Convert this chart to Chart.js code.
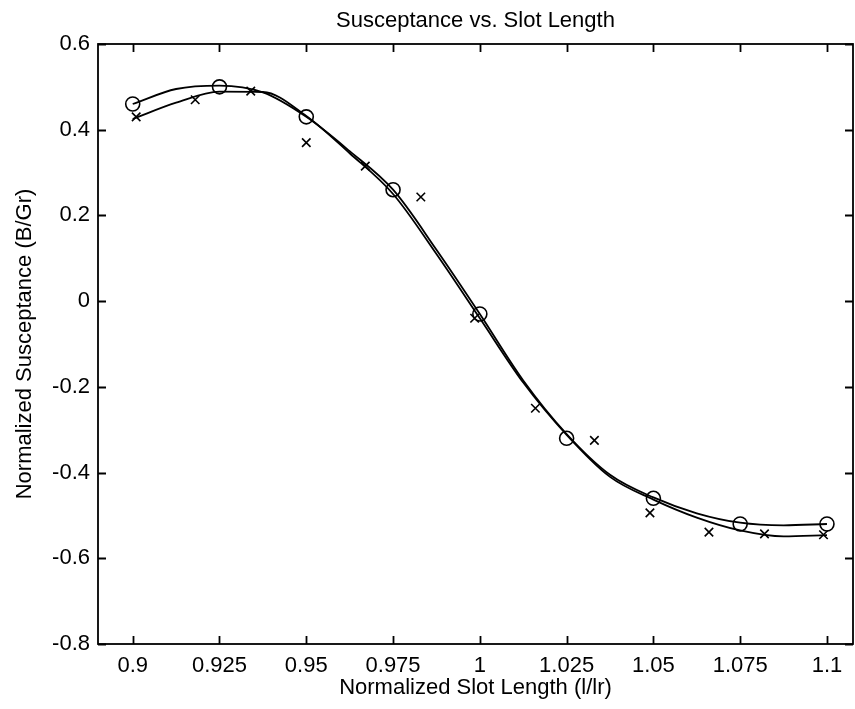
<!DOCTYPE html>
<html>
<head>
<meta charset="utf-8">
<title>Susceptance vs. Slot Length</title>
<script src="https://cdn.jsdelivr.net/npm/chart.js@4.4.1/dist/chart.umd.min.js"></script>
<style>
  html, body { margin: 0; padding: 0; background: #fff; }
  #wrap { width: 855px; height: 709px; }
</style>
</head>
<body>
<div id="wrap"><canvas id="susChart" width="855" height="709"></canvas></div>
<script>
// Tick labels
const xTicks = [0.9, 0.925, 0.95, 0.975, 1, 1.025, 1.05, 1.075, 1.1];
const yTicks = [-0.8, -0.6, -0.4, -0.2, 0, 0.2, 0.4, 0.6];

// Measured points (o)
const circleX = [0.9, 0.925, 0.95, 0.975, 1.0, 1.025, 1.05, 1.075, 1.1];
const circleY = [0.46, 0.50, 0.43, 0.26, -0.03, -0.32, -0.46, -0.52, -0.52];

// Measured points (x)
const crossX = [0.901, 0.918, 0.934, 0.950, 0.967, 0.983, 0.9985, 1.016, 1.033, 1.049, 1.066, 1.082, 1.099];
const crossY = [0.43, 0.47, 0.49, 0.37, 0.315, 0.243, -0.04, -0.25, -0.325, -0.494, -0.539, -0.543, -0.545];

// Fitted curves
const fitX = [0.9, 0.9125, 0.925, 0.9375, 0.95, 0.9625, 0.975, 0.9875, 1.0,
              1.0125, 1.025, 1.0375, 1.05, 1.0625, 1.075, 1.0875, 1.1];
const fitCircle = [0.46, 0.495, 0.503, 0.487, 0.43, 0.35, 0.26, 0.12, -0.03,
                   -0.185, -0.31, -0.405, -0.458, -0.495, -0.517, -0.523, -0.52];
const fitCross = [0.425, 0.463, 0.489, 0.488, 0.432, 0.345, 0.25, 0.11, -0.04,
                  -0.19, -0.312, -0.41, -0.463, -0.505, -0.535, -0.549, -0.546];

function toPoints(xs, ys) {
    return xs.map((x, i) => ({ x: x, y: ys[i] }));
}

// Box around the plot with inward ticks on all four sides
const boxPlugin = {
    id: 'boxPlugin',
    afterDatasetsDraw(chart) {
        const ctx = chart.ctx;
        const a = chart.chartArea;
        const xs = chart.scales.x;
        const ys = chart.scales.y;
        const len = 8;
        ctx.save();
        ctx.strokeStyle = '#000';
        ctx.lineWidth = 1.8;
        ctx.strokeRect(a.left, a.top, a.right - a.left, a.bottom - a.top);
        ctx.beginPath();
        xTicks.forEach(v => {
            const px = Math.round(xs.getPixelForValue(v)) + 0.5;
            ctx.moveTo(px, a.bottom);
            ctx.lineTo(px, a.bottom - len);
            ctx.moveTo(px, a.top);
            ctx.lineTo(px, a.top + len);
        });
        yTicks.forEach(v => {
            const py = Math.round(ys.getPixelForValue(v)) + 0.5;
            ctx.moveTo(a.left, py);
            ctx.lineTo(a.left + len, py);
            ctx.moveTo(a.right, py);
            ctx.lineTo(a.right - len, py);
        });
        ctx.stroke();
        ctx.restore();
    }
};

function initializeChart() {
    Chart.defaults.font.family = "'Liberation Sans', Arial, sans-serif";
    Chart.defaults.font.size = 22;
    Chart.defaults.color = '#000';

    const ctx = document.getElementById('susChart');
    new Chart(ctx, {
        type: 'scatter',
        data: {
            datasets: [
                {
                    label: 'fit o',
                    type: 'line',
                    data: toPoints(fitX, fitCircle),
                    borderColor: '#000',
                    borderWidth: 1.8,
                    pointRadius: 0,
                    cubicInterpolationMode: 'monotone',
                    fill: false
                },
                {
                    label: 'fit x',
                    type: 'line',
                    data: toPoints(fitX, fitCross),
                    borderColor: '#000',
                    borderWidth: 1.8,
                    pointRadius: 0,
                    cubicInterpolationMode: 'monotone',
                    fill: false
                },
                {
                    label: 'o',
                    data: toPoints(circleX, circleY),
                    pointStyle: 'circle',
                    pointRadius: 7,
                    borderColor: '#000',
                    backgroundColor: 'rgba(0,0,0,0)',
                    borderWidth: 1.6
                },
                {
                    label: 'x',
                    data: toPoints(crossX, crossY),
                    pointStyle: 'crossRot',
                    pointRadius: 6,
                    borderColor: '#000',
                    borderWidth: 1.6
                }
            ]
        },
        options: {
            responsive: false,
            animation: false,
            devicePixelRatio: 1,
            layout: {
                autoPadding: false,
                padding: { left: 0, right: 2, top: 0, bottom: 0 }
            },
            plugins: {
                legend: { display: false },
                tooltip: { enabled: false },
                title: {
                    display: true,
                    text: 'Susceptance vs. Slot Length',
                    fullSize: false,
                    color: '#000',
                    font: { size: 22, weight: 'normal' },
                    padding: { top: 8, bottom: 9.6 }
                }
            },
            scales: {
                x: {
                    type: 'linear',
                    min: 0.89,
                    max: 1.1075,
                    afterBuildTicks: scale => {
                        scale.ticks = xTicks.map(v => ({ value: v }));
                    },
                    afterFit: scale => {
                        scale.height = 65;
                        scale.paddingLeft = 0;
                        scale.paddingRight = 0;
                    },
                    ticks: {
                        padding: 9,
                        maxRotation: 0,
                        autoSkip: false,
                        callback: v => String(v)
                    },
                    grid: { display: false, drawTicks: false },
                    border: { display: false },
                    title: {
                        display: true,
                        text: 'Normalized Slot Length (l/lr)',
                        padding: { top: 0, bottom: 8 }
                    }
                },
                y: {
                    type: 'linear',
                    min: -0.8,
                    max: 0.6,
                    afterBuildTicks: scale => {
                        scale.ticks = yTicks.map(v => ({ value: v }));
                    },
                    afterFit: scale => {
                        scale.width = 98;
                        scale.paddingTop = 0;
                        scale.paddingBottom = 0;
                    },
                    ticks: {
                        padding: 8,
                        autoSkip: false,
                        callback: v => String(Math.round(v * 10) / 10)
                    },
                    grid: { display: false, drawTicks: false },
                    border: { display: false },
                    title: {
                        display: true,
                        text: 'Normalized Susceptance (B/Gr)',
                        padding: { top: 12, bottom: 0 }
                    }
                }
            }
        },
        plugins: [boxPlugin]
    });
}

document.addEventListener('DOMContentLoaded', initializeChart);
</script>
</body>
</html>
